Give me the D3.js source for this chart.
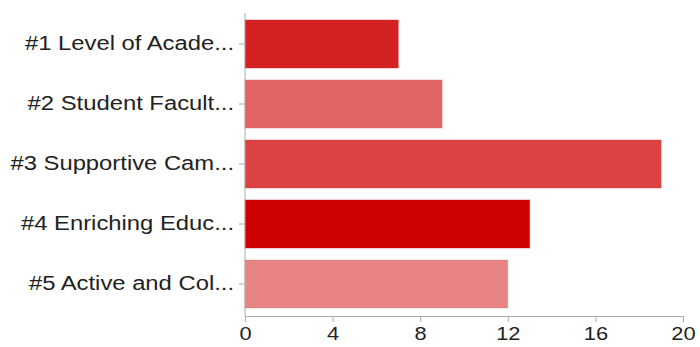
<!DOCTYPE html>
<html lang="en">
<head>
    <meta charset="UTF-8">
    <title>Bar chart</title>
    <script src="https://cdnjs.cloudflare.com/ajax/libs/d3/7.6.1/d3.min.js"></script>
    <style>
        body { margin: 0; background: #fff; }
        text { font-family: "Liberation Sans", Arial, sans-serif; }
    </style>
</head>
<body>
    <div id="chart"></div>
    <script>
        const categories = ["#1 Level of Acade...", "#2 Student Facult...", "#3 Supportive Cam...", "#4 Enriching Educ...", "#5 Active and Col..."];
        const values = [7, 9, 19, 13, 12];
        const colors = ["#d42121", "#e06464", "#dc4242", "#cf0000", "#e88383"];
        const xTicks = [0, 4, 8, 12, 16, 20];

        const width = 700;
        const height = 347;
        const margin = { top: 14, right: 17, bottom: 31, left: 245 };

        const svg = d3.select("#chart")
            .append("svg")
            .attr("width", width)
            .attr("height", height);

        const x = d3.scaleLinear()
            .domain([0, 20])
            .range([margin.left, width - margin.right]);

        const y = d3.scaleBand()
            .domain(categories)
            .range([margin.top, height - margin.bottom - 2])
            .paddingInner(0.2)
            .paddingOuter(0.1);

        svg.append("g")
            .selectAll("rect")
            .data(values)
            .join("rect")
            .attr("x", x(0))
            .attr("y", (d, i) => y(categories[i]))
            .attr("width", d => x(d) - x(0))
            .attr("height", y.bandwidth())
            .attr("fill", (d, i) => colors[i])
            .attr("stroke", (d, i) => colors[i])
            .attr("stroke-opacity", 0.4)
            .attr("stroke-width", 1);

        // the reference text is a bit wider than Liberation Sans, stretch it
        function widen(sel, k) {
            sel.each(function() {
                const w = this.getComputedTextLength();
                d3.select(this).attr("textLength", w * k).attr("lengthAdjust", "spacingAndGlyphs");
            });
        }

        const xAxis = svg.append("g")
            .attr("transform", `translate(0,${height - margin.bottom})`)
            .call(d3.axisBottom(x).tickValues(xTicks).tickSize(6).tickSizeOuter(0).tickPadding(5));
        xAxis.select(".domain").attr("stroke", "#aaa");
        xAxis.selectAll(".tick line").attr("stroke", "#aaa");
        xAxis.selectAll("text").attr("font-size", "19px").attr("fill", "#222");
        widen(xAxis.selectAll("text"), 1.15);

        const yAxis = svg.append("g")
            .attr("transform", `translate(${margin.left},0)`)
            .call(d3.axisLeft(y).tickSize(6).tickSizeOuter(0).tickPadding(5));
        yAxis.select(".domain").attr("d", `M0,${margin.top - 1}V${height - margin.bottom}`).attr("stroke", "#aaa");
        yAxis.selectAll(".tick line").attr("stroke", "#aaa");
        yAxis.selectAll("text").attr("font-size", "20px").attr("fill", "#222");
        widen(yAxis.selectAll("text"), 1.19);
    </script>
</body>
</html>
